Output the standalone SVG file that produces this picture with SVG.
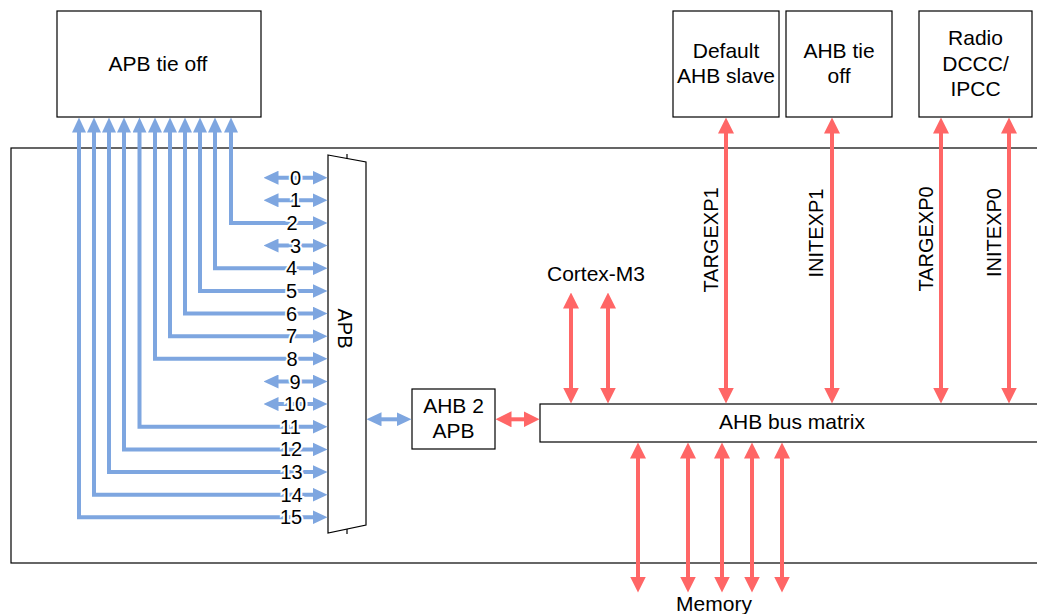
<svg xmlns="http://www.w3.org/2000/svg" width="1037" height="614" viewBox="0 0 1037 614">
<style>
.box{fill:#fff;stroke:#000;stroke-width:1.2}
.t{font-family:"Liberation Sans",Arial,sans-serif;font-size:21px;fill:#000}
.tv{font-family:"Liberation Sans",Arial,sans-serif;font-size:20px;fill:#000}
.n{font-family:"Liberation Sans",Arial,sans-serif;font-size:20px;fill:#000;text-anchor:middle;stroke:#fff;stroke-width:4;paint-order:stroke}
.b{fill:none;stroke:#7EA6E0;stroke-width:4;marker-start:url(#bh);marker-end:url(#bh)}
.r{fill:none;stroke:#FF6666;stroke-width:4;marker-start:url(#rh);marker-end:url(#rh)}
</style>
<defs>
<marker id="bh" markerUnits="userSpaceOnUse" markerWidth="15" markerHeight="14" viewBox="0 0 15 14" refX="0.5" refY="7" orient="auto-start-reverse"><path d="M0,0 L15,7 L0,14 z" fill="#7EA6E0"/></marker>
<marker id="rh" markerUnits="userSpaceOnUse" markerWidth="16" markerHeight="16" viewBox="0 0 16 16" refX="0.5" refY="8" orient="auto-start-reverse"><path d="M0,0 L16,8 L0,16 z" fill="#FF6666"/></marker>
</defs>

<g id="outer"><rect class="box" x="11" y="148" width="1040" height="415"/></g>

<g id="apb-tie-off"><rect class="box" x="57" y="11" width="204" height="106"/><text class="t" x="158" y="71" text-anchor="middle">APB tie off</text></g>
<g id="default-ahb-slave"><rect class="box" x="673" y="11" width="106" height="106"/><text class="t" x="726" y="58" text-anchor="middle">Default</text><text class="t" x="726" y="83" text-anchor="middle">AHB slave</text></g>
<g id="ahb-tie-off"><rect class="box" x="786" y="11" width="106" height="106"/><text class="t" x="839" y="58" text-anchor="middle">AHB tie</text><text class="t" x="839" y="83" text-anchor="middle">off</text></g>
<g id="radio"><rect class="box" x="919" y="11" width="113" height="106"/><text class="t" x="975.5" y="45" text-anchor="middle">Radio</text><text class="t" x="975.5" y="71" text-anchor="middle">DCCC/</text><text class="t" x="975.5" y="96" text-anchor="middle">IPCC</text></g>

<g id="apb-mux"><polygon class="box" points="328,155 366,162 366,525 328,533"/><line x1="347" y1="154" x2="347" y2="159" stroke="#000" stroke-width="1.2"/><line x1="347" y1="529" x2="347" y2="534" stroke="#000" stroke-width="1.2"/><text class="tv" transform="translate(338,328.5) rotate(90)" text-anchor="middle">APB</text></g>

<g id="ahb2apb"><rect class="box" x="412" y="389" width="83" height="60"/><text class="t" x="453.5" y="413" text-anchor="middle">AHB 2</text><text class="t" x="453.5" y="438" text-anchor="middle">APB</text></g>

<g id="ahb-bus-matrix"><rect class="box" x="540" y="404" width="510" height="38"/><text class="t" x="792" y="429" text-anchor="middle">AHB bus matrix</text></g>

<g id="labels">
<text class="t" x="596" y="281" text-anchor="middle">Cortex-M3</text>
<text class="t" x="714" y="611" text-anchor="middle">Memory</text>
<text class="tv" transform="translate(717.7,240) rotate(-90)" text-anchor="middle">TARGEXP1</text>
<text class="tv" transform="translate(823,233) rotate(-90)" text-anchor="middle">INITEXP1</text>
<text class="tv" transform="translate(933.3,239) rotate(-90)" text-anchor="middle">TARGEXP0</text>
<text class="tv" transform="translate(1000.7,232.5) rotate(-90)" text-anchor="middle">INITEXP0</text>
</g>

<g id="connectors">
<path class="b" d="M313,517.3 H79 V132"/>
<path class="b" d="M313,494.7 H94 V132"/>
<path class="b" d="M313,472 H109 V132"/>
<path class="b" d="M313,449.4 H124 V132"/>
<path class="b" d="M313,426.7 H139.5 V132"/>
<path class="b" d="M313,358.8 H155 V132"/>
<path class="b" d="M313,336.2 H170 V132"/>
<path class="b" d="M313,313.5 H185 V132"/>
<path class="b" d="M313,290.9 H200 V132"/>
<path class="b" d="M313,268.3 H215 V132"/>
<path class="b" d="M313,223 H231 V132"/>
<path class="b" d="M278,177.7 H313"/>
<path class="b" d="M278,200.3 H313"/>
<path class="b" d="M278,245.6 H313"/>
<path class="b" d="M278,381.5 H313"/>
<path class="b" d="M278,404.1 H313"/>
<path class="b" d="M381,419.3 H397"/>
<path class="r" d="M511,419.3 H524"/>
<path class="r" d="M571,308 V388"/>
<path class="r" d="M608,308 V388"/>
<path class="r" d="M726,133 V388"/>
<path class="r" d="M832,133 V388"/>
<path class="r" d="M941,133 V388"/>
<path class="r" d="M1009,133 V388"/>
<path class="r" d="M638,458 V577"/>
<path class="r" d="M688,458 V577"/>
<path class="r" d="M722,458 V577"/>
<path class="r" d="M752,458 V577"/>
<path class="r" d="M782,458 V577"/>
</g>

<g id="port-labels">
<text class="n" x="295.5" y="184.7">0</text>
<text class="n" x="295.5" y="207.3">1</text>
<text class="n" x="292" y="230">2</text>
<text class="n" x="295.5" y="252.6">3</text>
<text class="n" x="291.5" y="275.3">4</text>
<text class="n" x="291.5" y="297.9">5</text>
<text class="n" x="291.5" y="320.5">6</text>
<text class="n" x="291.5" y="343.2">7</text>
<text class="n" x="292" y="365.8">8</text>
<text class="n" x="295" y="388.5">9</text>
<text class="n" x="295" y="411.1">10</text>
<text class="n" x="290.5" y="433.7">11</text>
<text class="n" x="291" y="456.4">12</text>
<text class="n" x="291.5" y="479">13</text>
<text class="n" x="291.5" y="501.7">14</text>
<text class="n" x="291" y="524.3">15</text>
</g>
</svg>
